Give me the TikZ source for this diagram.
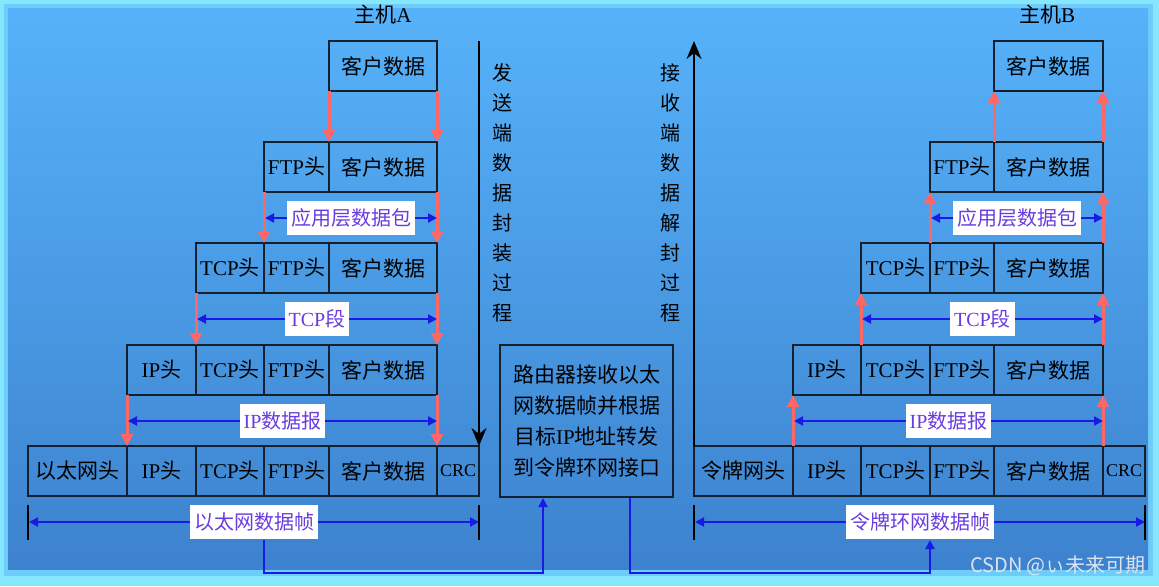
\documentclass[tikz,border=0pt]{standalone}
\usepackage{fontspec}
\setmainfont{Liberation Serif}
\newfontfamily\cjk{Noto Sans CJK SC}
\newcommand\hz[1]{{\cjk #1}}
\usetikzlibrary{arrows.meta}

\definecolor{rim}{HTML}{86E6FC}
\definecolor{bgtop}{HTML}{56B2FA}
\definecolor{bgbot}{HTML}{3D82CE}
\definecolor{cellline}{HTML}{14202C}
\definecolor{pushred}{HTML}{FF6666}
\definecolor{spanblue}{HTML}{1A1AE6}
\definecolor{tagtext}{HTML}{6A3CE0}
\definecolor{wmgray}{HTML}{DCE4EE}

\begin{document}
\begin{tikzpicture}[x=0.5pt,y=-0.5pt,
  cell/.style={draw=cellline, line width=1pt, inner sep=0pt, outer sep=0pt,
    minimum height=25pt, minimum width=#1*0.5pt, font=\fontsize{10.5}{12}\selectfont},
  tag/.style={fill=white, text=tagtext, inner xsep=2pt, inner ysep=0pt,
    minimum height=17pt, font=\fontsize{10}{12}\selectfont},
  span/.style={draw=spanblue, line width=1pt,
    {Triangle[length=4.5pt,width=4.5pt]}-{Triangle[length=4.5pt,width=4.5pt]}},
  push/.style={draw=pushred, line width=1.5pt, -{Triangle[length=6pt,width=6pt]}},
  flow/.style={line width=0.8pt, -{Stealth[length=9pt,width=7.5pt]}},
  link/.style={draw=spanblue, line width=1pt, -{Triangle[length=4.5pt,width=4.5pt]}},
  bar/.style={line width=1pt},
  vtext/.style={align=center, font=\cjk\fontsize{10}{15}\selectfont}]
\useasboundingbox (0,0) rectangle (1159,586);
% background
\fill[rim] (0,0) rectangle (1159,586);
\fill[rim!50!bgtop] (4,4) rectangle (1153,576);
\shade[top color=bgtop, bottom color=bgbot] (8,8) rectangle (1148,569);

% host A, sending side
\node[font=\fontsize{10.5}{12}\selectfont] (hostA) at (383,15) {\hz{主机}A};
\node[cell=108] (a1d) at (383,66) {\hz{客户数据}};
\node[cell=65] (a2f) at (296.5,167) {FTP\hz{头}};
\node[cell=108] (a2d) at (383,167) {\hz{客户数据}};
\node[cell=68] (a3t) at (230,268) {TCP\hz{头}};
\node[cell=65] (a3f) at (296.5,268) {FTP\hz{头}};
\node[cell=108] (a3d) at (383,268) {\hz{客户数据}};
\node[cell=69] (a4i) at (161.5,370) {IP\hz{头}};
\node[cell=68] (a4t) at (230,370) {TCP\hz{头}};
\node[cell=65] (a4f) at (296.5,370) {FTP\hz{头}};
\node[cell=108] (a4d) at (383,370) {\hz{客户数据}};
\node[cell=99] (a5e) at (77.5,471) {\hz{以太网头}};
\node[cell=69] (a5i) at (161.5,471) {IP\hz{头}};
\node[cell=68] (a5t) at (230,471) {TCP\hz{头}};
\node[cell=65] (a5f) at (296.5,471) {FTP\hz{头}};
\node[cell=108] (a5d) at (383,471) {\hz{客户数据}};
\node[cell=42, font=\fontsize{9}{10}\selectfont] (a5c) at (458,471) {CRC};

\draw[push] (a1d.south west) -- (a2d.north west);
\draw[push] (a1d.south east) -- (a2d.north east);
\draw[push] (a2f.south west) -- (a3f.north west);
\draw[push] (a2d.south east) -- (a3d.north east);
\draw[push] (a3t.south west) -- (a4t.north west);
\draw[push] (a3d.south east) -- (a4d.north east);
\draw[push] (a4i.south west) -- (a5i.north west);
\draw[push] (a4d.south east) -- (a5d.north east);

\coordinate (appAl) at (265,218);  \coordinate (appAr) at (437,218);
\coordinate (tcpAl) at (197,319);  \coordinate (tcpAr) at (437,319);
\coordinate (ipAl) at (128,421);   \coordinate (ipAr) at (437,421);
\coordinate (ethAl) at (29,522);   \coordinate (ethAr) at (479,522);
\draw[span] (appAl) -- node[tag] (appTagA) {\hz{应用层数据包}} (appAr);
\draw[span] (tcpAl) -- node[tag] (tcpTagA) {TCP\hz{段}} (tcpAr);
\draw[span] (ipAl) -- node[tag] (ipTagA) {IP\hz{数据报}} (ipAr);
\draw[span] (ethAl) -- node[tag] (ethtag) {\hz{以太网数据帧}} (ethAr);
\draw[bar] (28,505) -- (28,540);
\draw[bar] (479,505) -- (479,540);

\coordinate (sendtop) at (479,41);
\draw[flow] (sendtop) -- (a5c.north east);
\node[vtext] (sendtxt) at (502,193) {发\\送\\端\\数\\据\\封\\装\\过\\程};

% router in the middle
\node[draw=cellline, line width=1pt, minimum width=86.5pt, minimum height=76pt,
  align=center, font=\fontsize{10.5}{15.5}\selectfont] (router) at (586.5,421)
  {\hz{路由器接收以太}\\\hz{网数据帧并根据}\\\hz{目标}IP\hz{地址转发}\\\hz{到令牌环网接口}};

% host B, receiving side
\node[font=\fontsize{10.5}{12}\selectfont] (hostB) at (1047,15) {\hz{主机}B};
\node[cell=109] (b1d) at (1048.5,66) {\hz{客户数据}};
\node[cell=64] (b2f) at (962,167) {FTP\hz{头}};
\node[cell=109] (b2d) at (1048.5,167) {\hz{客户数据}};
\node[cell=69] (b3t) at (895.5,268) {TCP\hz{头}};
\node[cell=64] (b3f) at (962,268) {FTP\hz{头}};
\node[cell=109] (b3d) at (1048.5,268) {\hz{客户数据}};
\node[cell=68] (b4i) at (827,370) {IP\hz{头}};
\node[cell=69] (b4t) at (895.5,370) {TCP\hz{头}};
\node[cell=64] (b4f) at (962,370) {FTP\hz{头}};
\node[cell=109] (b4d) at (1048.5,370) {\hz{客户数据}};
\node[cell=99] (b5e) at (743.5,471) {\hz{令牌网头}};
\node[cell=68] (b5i) at (827,471) {IP\hz{头}};
\node[cell=69] (b5t) at (895.5,471) {TCP\hz{头}};
\node[cell=64] (b5f) at (962,471) {FTP\hz{头}};
\node[cell=109] (b5d) at (1048.5,471) {\hz{客户数据}};
\node[cell=42, font=\fontsize{9}{10}\selectfont] (b5c) at (1124,471) {CRC};

\draw[push] (b2d.north west) -- (b1d.south west);
\draw[push] (b2d.north east) -- (b1d.south east);
\draw[push] (b3f.north west) -- (b2f.south west);
\draw[push] (b3d.north east) -- (b2d.south east);
\draw[push] (b4t.north west) -- (b3t.south west);
\draw[push] (b4d.north east) -- (b3d.south east);
\draw[push] (b5i.north west) -- (b4i.south west);
\draw[push] (b5d.north east) -- (b4d.south east);

\coordinate (appBl) at (931,218);  \coordinate (appBr) at (1103,218);
\coordinate (tcpBl) at (862,319);  \coordinate (tcpBr) at (1103,319);
\coordinate (ipBl) at (794,421);   \coordinate (ipBr) at (1103,421);
\coordinate (ringBl) at (695,522); \coordinate (ringBr) at (1145,522);
\draw[span] (appBl) -- node[tag] (appTagB) {\hz{应用层数据包}} (appBr);
\draw[span] (tcpBl) -- node[tag] (tcpTagB) {TCP\hz{段}} (tcpBr);
\draw[span] (ipBl) -- node[tag] (ipTagB) {IP\hz{数据报}} (ipBr);
\draw[span] (ringBl) -- node[tag] (ringtag) {\hz{令牌环网数据帧}} (ringBr);
\draw[bar] (694,505) -- (694,540);
\draw[bar] (1145,505) -- (1145,540);

\coordinate (recvtop) at (694,41);
\draw[flow] (b5e.north west) -- (recvtop);
\node[vtext] (recvtxt) at (670,193) {接\\收\\端\\数\\据\\解\\封\\过\\程};

% frame handed over through the router
\coordinate (kneeA) at (543,573);
\coordinate (kneeB) at (930,573);
\draw[link] ([xshift=5pt]ethtag.south) |- (kneeA) -- (router.south -| kneeA);
\draw[link] ([xshift=21.75pt]router.south) |- (kneeB) -- (ringtag.south -| kneeB);

\node[text=wmgray, font=\cjk\fontsize{10}{12}\selectfont] (mark) at (1058,566) {CSDN @ぃ未来可期};
\end{tikzpicture}
\end{document}
